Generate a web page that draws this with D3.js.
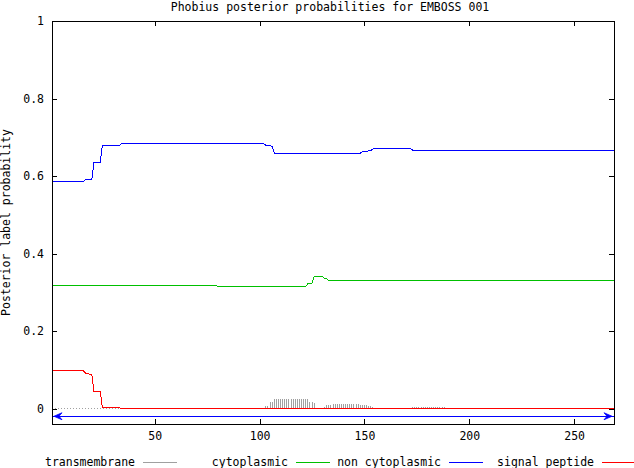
<!DOCTYPE html>
<html>
<head>
<meta charset="utf-8">
<script src="https://cdn.jsdelivr.net/npm/d3@7"></script>
<style>
  body { margin: 0; background: #fff; }
  text { font-family: "DejaVu Sans Mono", monospace; font-size: 11.5px; fill: #000; }
</style>
</head>
<body>
<div id="chart"></div>
<script>
// chart data
var chartTitle = "Phobius posterior probabilities for EMBOSS 001";
var seqStart = 1;
var seqEnd = 269;
var xTicks = [50, 100, 150, 200, 250];
var yTicks = [0, 0.2, 0.4, 0.6, 0.8, 1];

// break points of the stepped lines (residue, probability)
var cytoPos  = [1, 79, 80, 122, 123, 125, 126, 130, 131, 132, 133, 189, 190, 269];
var cytoProb = [0.318, 0.318, 0.3155, 0.3155, 0.322, 0.324, 0.34, 0.34, 0.335, 0.335, 0.3295, 0.3295, 0.331, 0.331];

var nonCytoPos  = [1, 16, 17, 20, 21, 24, 25, 33, 34, 102, 103, 106, 107, 148, 149, 151, 152, 153, 154, 172, 173, 269];
var nonCytoProb = [0.585, 0.585, 0.592, 0.592, 0.636, 0.636, 0.678, 0.678, 0.683, 0.683, 0.679, 0.677, 0.659, 0.659, 0.662, 0.662, 0.665, 0.665, 0.670, 0.670, 0.667, 0.667];

var signalPos  = [1, 16, 17, 18, 19, 20, 21, 24, 25, 33, 34, 269];
var signalProb = [0.097, 0.097, 0.091, 0.091, 0.088, 0.088, 0.044, 0.044, 0.003, 0.003, 0, 0];

// transmembrane, drawn as impulses (only non zero residues)
var tmPos = [103, 104, 105, 106, 107, 108, 109, 110, 111, 112, 113, 114, 115, 116, 117, 118, 119, 120, 121, 122, 123, 124, 125, 126,
             131, 132, 133, 134, 135, 136, 137, 138, 139, 140, 141, 142, 143, 144, 145, 146, 147, 148, 149, 150, 151, 152, 153, 154,
             173, 174, 175, 176, 177, 178, 179, 180, 181, 182, 183, 184, 185, 186, 187, 188];
var tmProb = [0.006, 0.006, 0.017, 0.017, 0.024, 0.024, 0.024, 0.024, 0.024, 0.024, 0.024, 0.024, 0.024, 0.024, 0.024, 0.024, 0.024, 0.024, 0.024, 0.024, 0.024, 0.016, 0.016, 0.013,
              0.004, 0.009, 0.009, 0.009, 0.012, 0.012, 0.012, 0.012, 0.012, 0.012, 0.012, 0.012, 0.012, 0.012, 0.012, 0.012, 0.012, 0.009, 0.009, 0.009, 0.009, 0.006, 0.006, 0.003,
              0.003, 0.003, 0.003, 0.003, 0.003, 0.003, 0.003, 0.003, 0.003, 0.003, 0.003, 0.003, 0.003, 0.003, 0.003, 0.003];

var legendNames  = ["transmembrane", "cytoplasmic", "non cytoplasmic", "signal peptide"];
var legendColors = ["#a0a0a0", "#00c000", "#0000ff", "#ff0000"];

var svgWidth = 634;
var svgHeight = 468;
var margin = { top: 21, right: 20, bottom: 44, left: 52 };
var width = svgWidth - margin.left - margin.right;
var height = svgHeight - margin.top - margin.bottom;

var svg = d3.select("#chart")
  .append("svg")
  .attr("width", svgWidth)
  .attr("height", svgHeight);

var chartGroup = svg.append("g")
  .attr("transform", `translate(${margin.left}, ${margin.top})`);

var xScale = d3.scaleLinear().domain([seqStart, seqEnd]).range([0, width]);
var yScale = d3.scaleLinear().domain([-0.04, 1]).range([height, 0]);

// axes, gnuplot style: ticks pointing inwards, mirrored on top / right
function styleAxis(g) {
  g.select(".domain").remove();
  g.selectAll(".tick line").attr("stroke", "#000").attr("shape-rendering", "crispEdges");
  g.selectAll(".tick text").attr("font-family", null).attr("font-size", null);
}

chartGroup.append("g")
  .attr("transform", `translate(0, ${height})`)
  .call(d3.axisBottom(xScale).tickValues(xTicks).tickSizeInner(-5).tickSizeOuter(0).tickPadding(8))
  .call(styleAxis);

chartGroup.append("g")
  .call(d3.axisTop(xScale).tickValues(xTicks).tickSizeInner(-5).tickSizeOuter(0).tickFormat(""))
  .call(styleAxis);

chartGroup.append("g")
  .call(d3.axisLeft(yScale).tickValues(yTicks).tickSizeInner(-5).tickSizeOuter(0).tickPadding(8)
    .tickFormat(d => d === 0 || d === 1 ? d3.format("d")(d) : d3.format(".1f")(d)))
  .call(styleAxis);

chartGroup.append("g")
  .attr("transform", `translate(${width}, 0)`)
  .call(d3.axisRight(yScale).tickValues(yTicks).tickSizeInner(-5).tickSizeOuter(0).tickFormat(""))
  .call(styleAxis);

// zero axis (dotted)
chartGroup.append("line")
  .attr("x1", 0).attr("x2", width)
  .attr("y1", yScale(0)).attr("y2", yScale(0))
  .attr("stroke", "#a0a0a0")
  .attr("stroke-dasharray", "1,2")
  .attr("shape-rendering", "crispEdges");

// transmembrane impulses
chartGroup.selectAll(".tm")
  .data(tmPos)
  .enter()
  .append("line")
  .attr("class", "tm")
  .attr("x1", d => xScale(d)).attr("x2", d => xScale(d))
  .attr("y1", yScale(0))
  .attr("y2", (d, i) => yScale(tmProb[i]))
  .attr("stroke", legendColors[0])
  .attr("shape-rendering", "crispEdges");

var lineGen = d3.line()
  .x(d => xScale(d[0]))
  .y(d => yScale(d[1]));

var series = [
  [cytoPos, cytoProb, legendColors[1]],
  [nonCytoPos, nonCytoProb, legendColors[2]],
  [signalPos, signalProb, legendColors[3]]
];

series.forEach(function(s) {
  var pts = s[0].map((p, i) => [p, s[1][i]]);
  chartGroup.append("path")
    .datum(pts)
    .attr("d", lineGen)
    .attr("fill", "none")
    .attr("stroke", s[2])
    .attr("stroke-width", 1)
    .attr("shape-rendering", "crispEdges");
});

// whole-sequence arrow under the zero line
var arrowY = yScale(-0.02);
var ax1 = xScale(seqStart), ax2 = xScale(seqEnd);
chartGroup.append("line")
  .attr("x1", ax1).attr("x2", ax2)
  .attr("y1", arrowY).attr("y2", arrowY)
  .attr("stroke", "#0000ff")
  .attr("stroke-width", 1)
  .attr("shape-rendering", "crispEdges");
[[ax1, 1], [ax2, -1]].forEach(function(a) {
  var x0 = a[0], dir = a[1];
  chartGroup.append("path")
    .attr("d", `M${x0 + dir * 2},${arrowY} L${x0 + dir * 10},${arrowY - 3.5} L${x0 + dir * 7},${arrowY} L${x0 + dir * 10},${arrowY + 3.5} Z`)
    .attr("fill", "#0000ff")
    .attr("stroke", "#0000ff")
    .attr("stroke-width", 0.8);
});

// frame
chartGroup.append("rect")
  .attr("width", width).attr("height", height)
  .attr("fill", "none")
  .attr("stroke", "#000")
  .attr("shape-rendering", "crispEdges");

// title
svg.append("text")
  .attr("x", 330)
  .attr("y", 11)
  .attr("text-anchor", "middle")
  .text(chartTitle);

// y axis label
svg.append("text")
  .attr("transform", `translate(10, ${margin.top + height / 2}) rotate(-90)`)
  .attr("text-anchor", "middle")
  .text("Posterior label probability");

// legend along the bottom
var legend = svg.append("g").attr("transform", "translate(0, 462)");
legendNames.forEach(function(name, i) {
  var xEnd = 135 + i * 153;
  legend.append("text")
    .attr("x", xEnd)
    .attr("y", 4)
    .attr("text-anchor", "end")
    .text(name);
  legend.append("line")
    .attr("x1", xEnd + 8).attr("x2", xEnd + 42)
    .attr("y1", 0).attr("y2", 0)
    .attr("stroke", legendColors[i])
    .attr("stroke-width", 1)
    .attr("shape-rendering", "crispEdges");
});
</script>
</body>
</html>
